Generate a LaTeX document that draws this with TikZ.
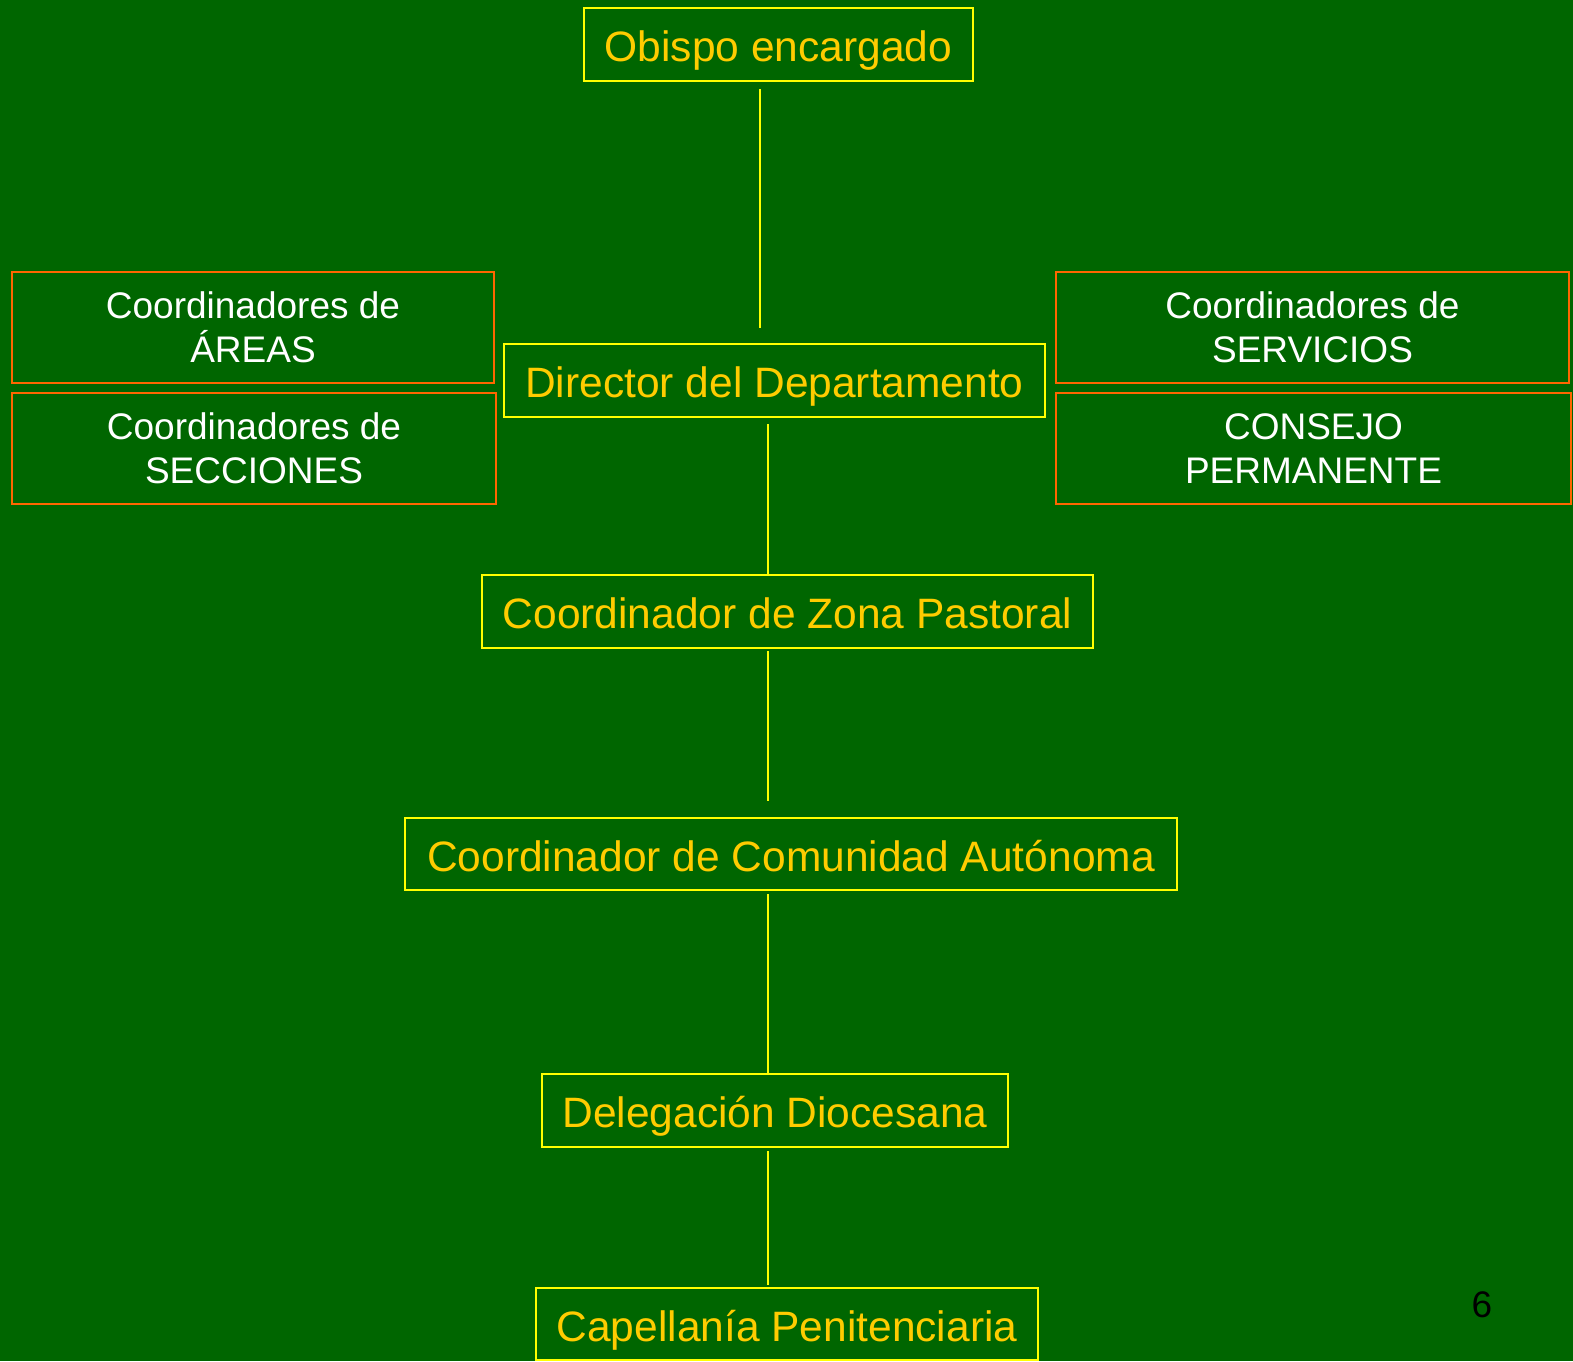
\documentclass[tikz,border=0pt]{standalone}
\usepackage{fontspec}
\setmainfont{Liberation Sans}
\definecolor{bg}{HTML}{006600}
\definecolor{ybord}{HTML}{FFFF00}
\definecolor{ytext}{HTML}{FFCC00}
\definecolor{obord}{HTML}{FF6600}
\tikzset{
  ybox/.style={draw=ybord, line width=2pt, text=ytext, inner sep=0pt,
    font=\fontsize{42.5}{51}\selectfont, text height=34pt, text depth=0pt},
  obox/.style={draw=obord, line width=2.5pt, text=white, inner sep=0pt, align=center,
    font=\fontsize{37}{44.5}\selectfont},
  conn/.style={draw=ybord, line width=1.5pt},
}
\begin{document}
\begin{tikzpicture}[x=1pt,y=-1pt]
\useasboundingbox (0,0) rectangle (1573,1361);
\fill[bg] (0,0) rectangle (1573,1361);
\node[ybox, minimum width=389pt, minimum height=73pt] (obispo) at (778.5,44.5) {Obispo encargado};
\node[obox, minimum width=482pt, minimum height=111pt] (areas) at (253,327.5) {Coordinadores de\\ÁREAS};
\node[obox, minimum width=484pt, minimum height=111pt] (secciones) at (254,448.5) {Coordinadores de\\SECCIONES};
\node[ybox, minimum width=541pt, minimum height=73pt] (director) at (774.5,380.5) {Director del Departamento};
\node[obox, minimum width=513pt, minimum height=111pt] (servicios) at (1312.5,327.5) {Coordinadores de\\SERVICIOS};
\node[obox, minimum width=515pt, minimum height=111pt] (consejo) at (1313.5,448.5) {CONSEJO\\PERMANENTE};
\node[ybox, minimum width=611pt, minimum height=73pt] (zona) at (787.5,611.5) {Coordinador de Zona Pastoral};
\node[ybox, minimum width=772pt, minimum height=72pt] (comunidad) at (791,854) {Coordinador de Comunidad Autónoma};
\node[ybox, minimum width=466pt, minimum height=73pt] (delegacion) at (775,1110.5) {Delegación Diocesana};
\node[ybox, minimum width=502pt, minimum height=72pt] (capellania) at (787,1324) {Capellanía Penitenciaria};
\node[font=\fontsize{37}{44.5}\selectfont, text=black, inner sep=0pt] (pagenum) at (1482,1305) {6};
\coordinate (xa) at (760,0);
\coordinate (xb) at (768,0);
\draw[conn, shorten <=7pt, shorten >=15pt] (obispo.south -| xa) -- (director.north -| xa);
\draw[conn, shorten <=6pt] (director.south -| xb) -- (zona.north -| xb);
\draw[conn, shorten <=2pt, shorten >=16pt] (zona.south -| xb) -- (comunidad.north -| xb);
\draw[conn, shorten <=3pt] (comunidad.south -| xb) -- (delegacion.north -| xb);
\draw[conn, shorten <=3pt, shorten >=2pt] (delegacion.south -| xb) -- (capellania.north -| xb);
\end{tikzpicture}
\end{document}
